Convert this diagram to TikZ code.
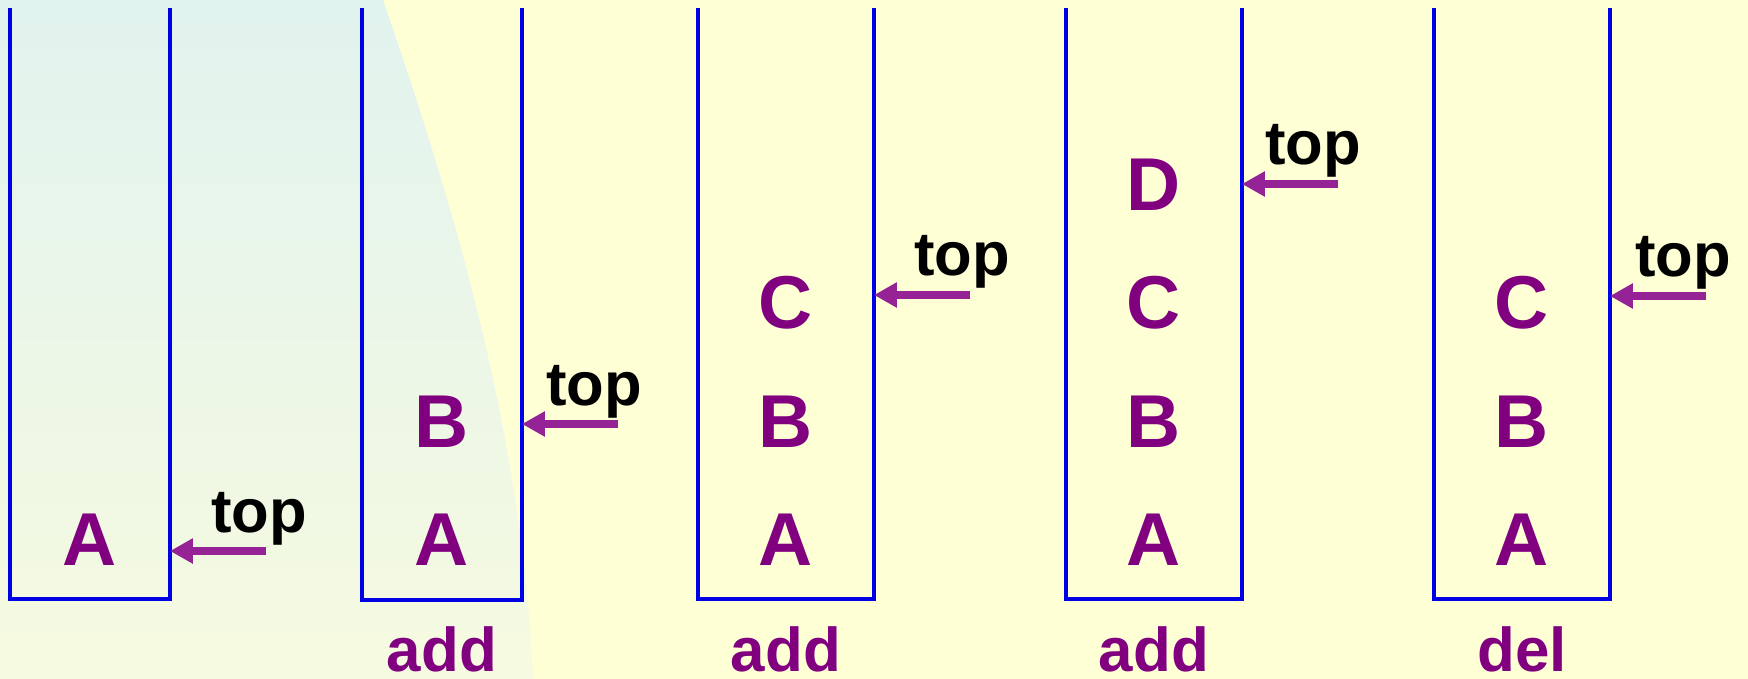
\documentclass[tikz,border=0pt]{standalone}
\usepackage{fontspec}
\setmainfont{Liberation Sans}
\usetikzlibrary{arrows.meta}
\definecolor{bgyellow}{RGB}{255,255,213}
\definecolor{bgcyan}{RGB}{225,243,239}
\definecolor{bglight}{RGB}{246,250,224}
\definecolor{stackblue}{RGB}{0,0,228}
\definecolor{itempurple}{RGB}{128,0,128}
\definecolor{arrowpurple}{RGB}{150,35,150}

\begin{document}
\begin{tikzpicture}[x=0.01cm,y=-0.01cm,
  stackline/.style={draw=stackblue,line width=1pt},
  item/.style={anchor=base,text=itempurple,font=\fontsize{21.3}{24}\selectfont\bfseries},
  oplabel/.style={anchor=base,text=itempurple,font=\fontsize{17.6}{20}\selectfont\bfseries},
  toplabel/.style={anchor=base,text=black,font=\fontsize{17.5}{20}\selectfont\bfseries},
  toparrow/.style={draw=arrowpurple,line width=2pt,-{Triangle[length=6.5pt,width=6.8pt]}}]
\tikzstyle{every node}+=[inner sep=0pt]
\useasboundingbox (0,0) rectangle (1748,679);
\fill [bgyellow] (0,0) rectangle (1748,679);
\shade [top color=bgcyan,bottom color=bglight] (0,0) -- (383,0) .. controls (452,200) and (522,430) .. (533,679) -- (0,679) -- cycle;
\draw [stackline] (10,8) |- (170,599) -- (170,8);
\draw [stackline] (362,8) |- (522,600) -- (522,8);
\draw [stackline] (698,8) |- (874,599) -- (874,8);
\draw [stackline] (1066,8) |- (1242,599) -- (1242,8);
\draw [stackline] (1434,8) |- (1610,599) -- (1610,8);
\node [item] (s1a) at (90,565) {A};
\node [item] (s2a) at (442,565) {A};
\node [item] (s2b) at (442,447) {B};
\node [item] (s3a) at (786,565) {A};
\node [item] (s3b) at (786,447) {B};
\node [item] (s3c) at (786,328) {C};
\node [item] (s4a) at (1154,565) {A};
\node [item] (s4b) at (1154,447) {B};
\node [item] (s4c) at (1154,328) {C};
\node [item] (s4d) at (1154,211) {D};
\node [item] (s5a) at (1522,565) {A};
\node [item] (s5b) at (1522,447) {B};
\node [item] (s5c) at (1522,328) {C};
\node [oplabel] (op2) at (442,671) {add};
\node [oplabel] (op3) at (786,671) {add};
\node [oplabel] (op4) at (1154,671) {add};
\node [oplabel] (op5) at (1522,671) {del};
\coordinate (w1) at (170,551);
\coordinate (t1) at (266,551);
\coordinate (w2) at (522,424);
\coordinate (t2) at (618,424);
\coordinate (w3) at (874,295);
\coordinate (t3) at (970,295);
\coordinate (w4) at (1242,184);
\coordinate (t4) at (1338,184);
\coordinate (w5) at (1610,296);
\coordinate (t5) at (1706,296);
\draw [toparrow] (t1) -- (w1);
\draw [toparrow] (t2) -- (w2);
\draw [toparrow] (t3) -- (w3);
\draw [toparrow] (t4) -- (w4);
\draw [toparrow] (t5) -- (w5);
\node [toplabel] (top1) at (259,532) {top};
\node [toplabel] (top2) at (594,405) {top};
\node [toplabel] (top3) at (962,276) {top};
\node [toplabel] (top4) at (1313,165) {top};
\node [toplabel] (top5) at (1683,277) {top};
\end{tikzpicture}
\end{document}
